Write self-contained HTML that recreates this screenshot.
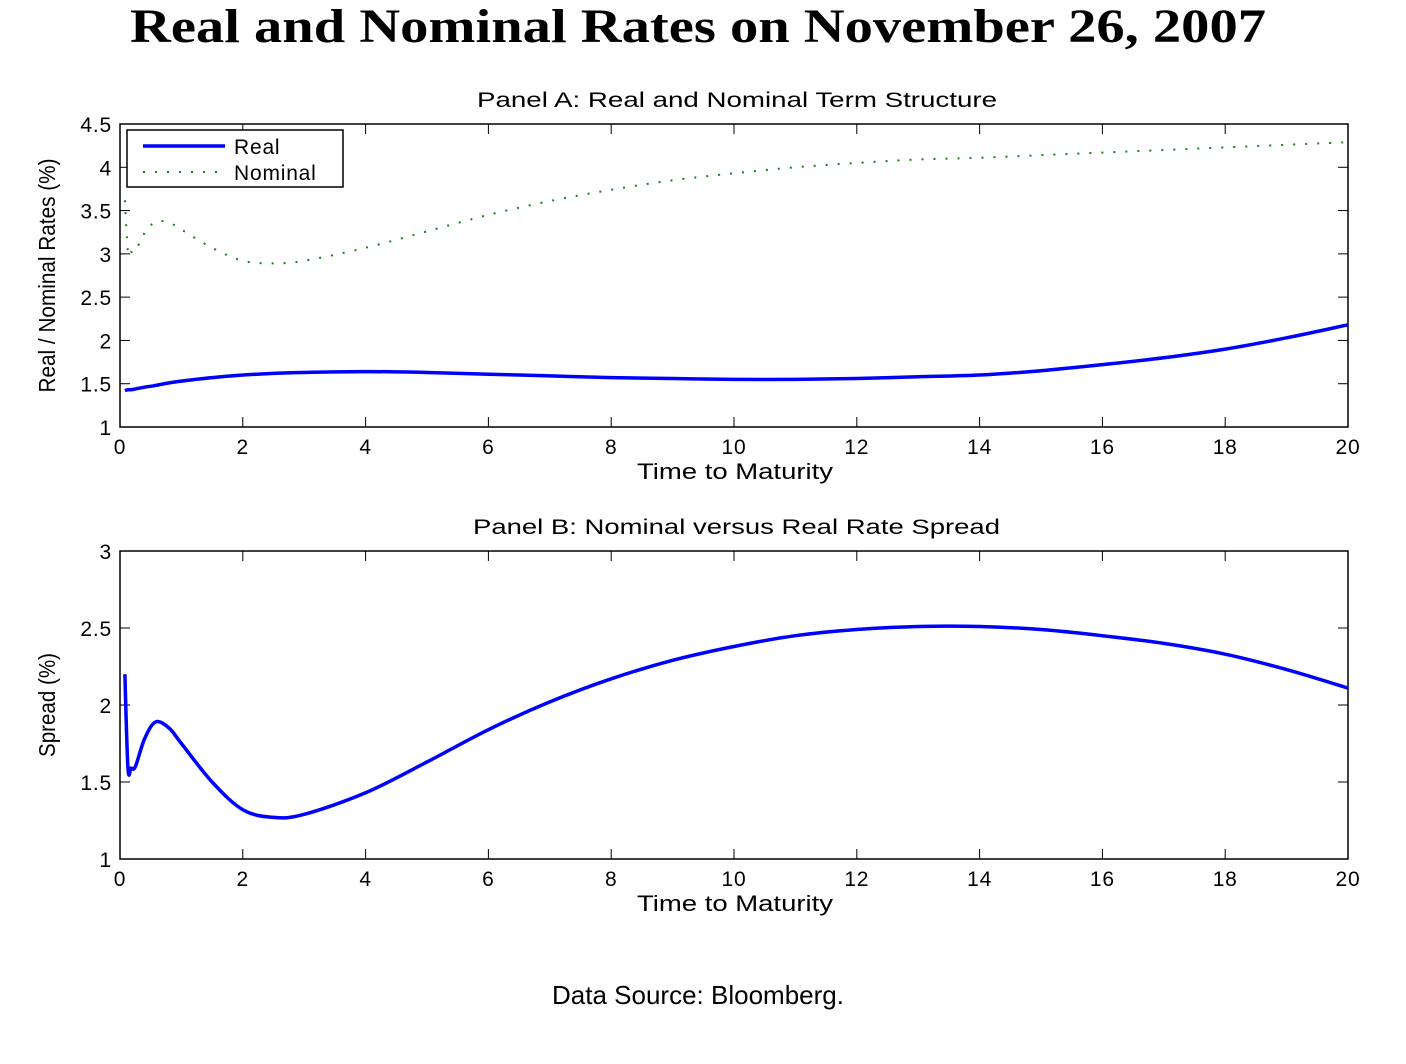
<!DOCTYPE html>
<html><head><meta charset="utf-8"><style>
html,body{margin:0;padding:0;background:#fff;}
svg{display:block;}
text{font-family:"Liberation Sans",sans-serif;fill:#000;}
</style></head><body>
<svg id="chart" width="1406" height="1064" xmlns="http://www.w3.org/2000/svg">
<text x="130" y="42" textLength="1136" lengthAdjust="spacingAndGlyphs" style="font-family:'Liberation Serif',serif;font-weight:bold;font-size:48px">Real and Nominal Rates on November 26, 2007</text>
<text x="552" y="1004" textLength="292" lengthAdjust="spacingAndGlyphs" style="font-size:26px">Data Source:  Bloomberg.</text>
<g id="panelA"></g>
<g id="panelB"></g>
</svg>
<script>
const maturities=[0.08,0.13,0.18,0.25,0.4,0.58,0.8,1,1.5,2,2.5,3,4,5,6,7,8,9,10,11,12,13,14,15,16,17,18,19,20];
const realRates=[1.42,1.43,1.43,1.44,1.46,1.48,1.51,1.53,1.57,1.60,1.62,1.63,1.64,1.63,1.61,1.59,1.57,1.56,1.55,1.55,1.56,1.58,1.6,1.65,1.72,1.8,1.9,2.03,2.18];
const nominalRates=[3.62,3.02,3.02,3.03,3.24,3.37,3.36,3.28,3.07,2.92,2.89,2.92,3.07,3.26,3.45,3.61,3.74,3.85,3.93,4.0,4.05,4.09,4.11,4.14,4.17,4.2,4.23,4.26,4.29];
const spreads=[2.2,1.59,1.59,1.6,1.78,1.89,1.85,1.75,1.5,1.32,1.27,1.29,1.43,1.63,1.84,2.02,2.17,2.29,2.38,2.45,2.49,2.51,2.51,2.49,2.45,2.4,2.33,2.23,2.11];
const xTicks=[0,2,4,6,8,10,12,14,16,18,20];
const yTicksA=[1,1.5,2,2.5,3,3.5,4,4.5];
const yTicksB=[1,1.5,2,2.5,3];

const NS='http://www.w3.org/2000/svg';
function mk(parent,tag,attrs,txt){const e=document.createElementNS(NS,tag);for(const k in attrs)e.setAttribute(k,attrs[k]);if(txt!==undefined)e.textContent=txt;parent.appendChild(e);return e;}
function smoothPath(pts){let d='M'+pts[0][0]+','+pts[0][1];for(let i=0;i<pts.length-1;i++){const p0=pts[Math.max(0,i-1)],p1=pts[i],p2=pts[i+1],p3=pts[Math.min(pts.length-1,i+2)];let c1=[p1[0]+(p2[0]-p0[0])/6,p1[1]+(p2[1]-p0[1])/6];let c2=[p2[0]-(p3[0]-p1[0])/6,p2[1]-(p3[1]-p1[1])/6];if(i===0){c1=[p1[0],p1[1]];}d+='C'+c1[0]+','+c1[1]+' '+c2[0]+','+c2[1]+' '+p2[0]+','+p2[1];}return d;}
function linePath(pts){return pts.map((p,i)=>(i?'L':'M')+p[0]+','+p[1]).join('');}

const TS='font-size:21px;letter-spacing:0.8px';
function panel(g,top,bottom,ymin,ymax,yTicks,title,titleX,titleW,ylabel,ylabelLen){
  const L=120,R=1348;
  const sx=v=>L+(v-0)/(20-0)*(R-L);
  const sy=v=>bottom-(v-ymin)/(ymax-ymin)*(bottom-top);
  let t=mk(g,'text',{x:titleX,y:top-17,textLength:titleW,lengthAdjust:'spacingAndGlyphs',style:'font-size:21px'},title);
  
  
  let r=mk(g,'rect',{x:L,y:top,width:R-L,height:bottom-top,fill:'none',stroke:'#000','stroke-width':'1.5'});
  
  
  xTicks.forEach(v=>{
    const x=sx(v);
    mk(g,'line',{x1:x,x2:x,y1:bottom,y2:bottom-10,stroke:'#000','stroke-width':'1'});
    mk(g,'line',{x1:x,x2:x,y1:top,y2:top+10,stroke:'#000','stroke-width':'1'});
    const tl=mk(g,'text',{x:x,y:bottom+27,'text-anchor':'middle',style:TS},String(v));
    
    
  });
  yTicks.forEach(v=>{
    const y=sy(v);
    mk(g,'line',{x1:L,x2:L+10,y1:y,y2:y,stroke:'#000','stroke-width':'1'});
    mk(g,'line',{x1:R,x2:R-10,y1:y,y2:y,stroke:'#000','stroke-width':'1'});
    const tl=mk(g,'text',{x:L-8,y:y+8,'text-anchor':'end',style:TS},String(v));
    
    
  });
  const xl=mk(g,'text',{x:637,y:bottom+52,textLength:196,lengthAdjust:'spacingAndGlyphs',style:'font-size:22px'},'Time to Maturity');
  
  
  const cy=(top+bottom)/2;
  const yl=mk(g,'text',{x:0,y:0,'text-anchor':'middle',textLength:ylabelLen,lengthAdjust:'spacingAndGlyphs',style:'font-size:23px',transform:'translate(55,'+cy+') rotate(-90)'},ylabel);
  
  
  return {sx,sy};
}

const gA=document.getElementById('panelA');
const A=panel(gA,124,427,1,4.5,yTicksA,'Panel A: Real and Nominal Term Structure',477,520,'Real / Nominal Rates (%)',234);
let p=mk(gA,'path',{d:smoothPath(maturities.map((m,i)=>[A.sx(m),A.sy(nominalRates[i])])),fill:'none',stroke:'#1a7f1a','stroke-width':'2','stroke-dasharray':'2 10'});


p=mk(gA,'path',{d:smoothPath(maturities.map((m,i)=>[A.sx(m),A.sy(realRates[i])])),fill:'none',stroke:'#0000ff','stroke-width':'3.5'});


const lg=mk(gA,'g',{});


mk(lg,'rect',{x:127,y:130,width:216,height:57,fill:'#fff',stroke:'#000','stroke-width':'1.5'});
mk(lg,'line',{x1:143,x2:225,y1:146,y2:146,stroke:'#0000ff','stroke-width':'3.5'});
let le=mk(lg,'text',{x:234,y:154,style:TS},'Real');


mk(lg,'line',{x1:143,x2:225,y1:172,y2:172,stroke:'#1a7f1a','stroke-width':'2','stroke-dasharray':'2 10'});
le=mk(lg,'text',{x:234,y:180,style:TS},'Nominal');



const gB=document.getElementById('panelB');
const B=panel(gB,551,859,1,3,yTicksB,'Panel B: Nominal versus Real Rate Spread',473,527,'Spread (%)',104);
p=mk(gB,'path',{d:smoothPath(maturities.map((m,i)=>[B.sx(m),B.sy(spreads[i])])),fill:'none',stroke:'#0000ff','stroke-width':'3.5'});


</script>
</body></html>
